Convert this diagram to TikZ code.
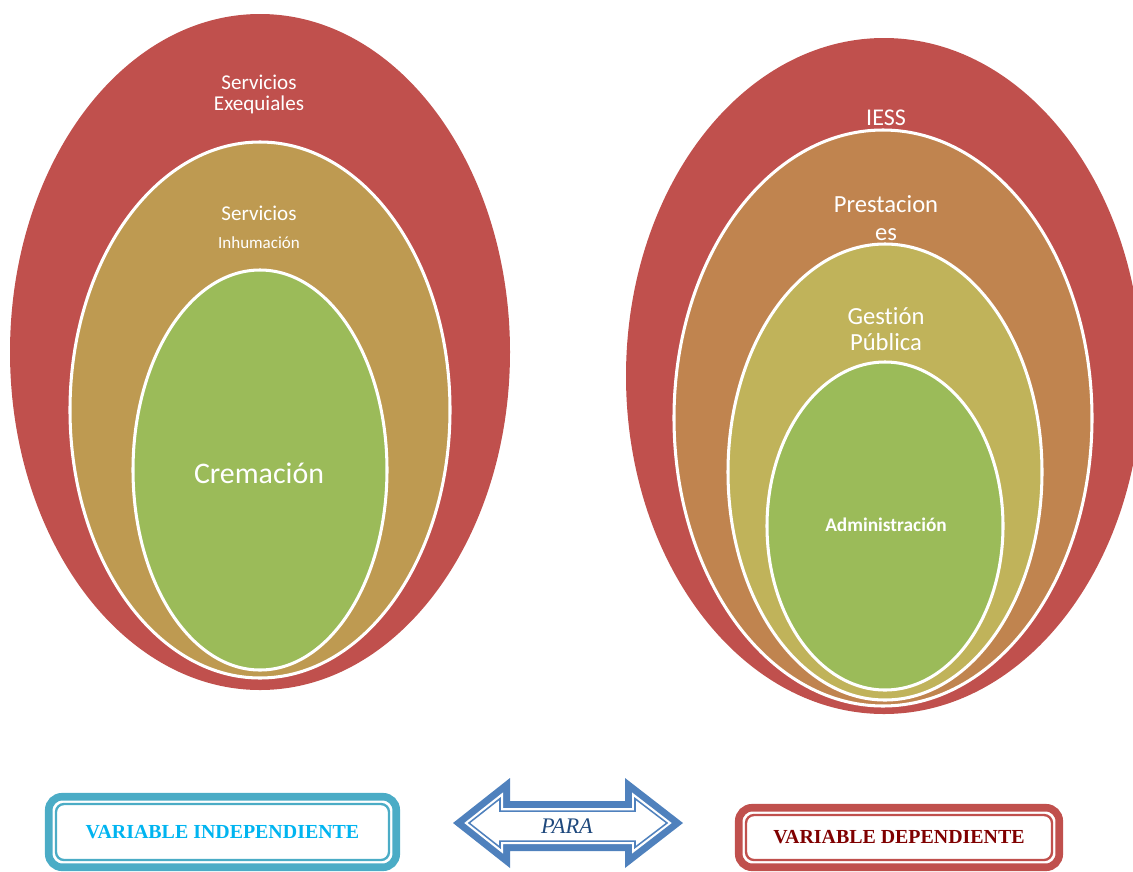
\documentclass[tikz,border=0pt]{standalone}
\usepackage{fontspec}
\setmainfont{Liberation Serif}
\newfontfamily\calibri{Carlito}[Ligatures={NoCommon}]
\usepackage{color}

\definecolor{rojo}{HTML}{C0504D}
\definecolor{ocre}{HTML}{BE9A51}
\definecolor{verde}{HTML}{9BBB59}
\definecolor{cobre}{HTML}{C0844F}
\definecolor{cobrebajo}{HTML}{C3584D}
\definecolor{oliva}{HTML}{C0B35A}
\definecolor{olivabajo}{HTML}{C68A50}
\definecolor{turquesa}{HTML}{4BACC6}
\definecolor{celeste}{HTML}{00B4F0}
\definecolor{granate}{HTML}{7F0000}
\definecolor{azul}{HTML}{4F81BD}
\definecolor{azuloscuro}{HTML}{1F497D}

\pgfdeclareverticalshading{cobresombra}{100bp}{color(0bp)=(cobrebajo); color(22bp)=(cobre); color(100bp)=(cobre)}
\pgfdeclareverticalshading{olivasombra}{100bp}{color(0bp)=(olivabajo); color(25bp)=(oliva); color(100bp)=(oliva)}

\tikzset{
  anillo/.style={draw=white,line width=2.6pt},
  rotulo/.style={text=white,align=center,inner sep=0pt},
  caja/.style={draw=#1,line width=6.5pt,rounded corners=4mm,inner sep=0pt,outer sep=0pt,
    font=\bfseries\fontsize{17}{17}\selectfont},
}

\begin{document}
\begin{tikzpicture}[x=0.3mm,y=-0.3mm]
\useasboundingbox (0,0) rectangle (1133,871);
% variable independiente
\fill[rojo] (260,352) ellipse [x radius=250,y radius=338];
\filldraw[ocre,anillo] (260,410) ellipse [x radius=190,y radius=268];
\filldraw[verde,anillo] (260,470) ellipse [x radius=127,y radius=200];
\node[rotulo,font=\calibri\fontsize{18}{18}\selectfont] (exequiales) at (259,94) {Servicios\\Exequiales};
\node[rotulo,font=\calibri\fontsize{18}{18}\selectfont] (servicios) at (259,213) {Servicios};
\node[rotulo,font=\calibri\fontsize{14.5}{14.5}\selectfont] (inhumacion) at (259,243) {Inhumación};
\node[rotulo,font=\calibri\fontsize{25.5}{25.5}\selectfont] (cremacion) at (259,473) {Cremación};
% variable dependiente
\fill[rojo] (884,376) ellipse [x radius=258,y radius=338];
\path[anillo,shading=cobresombra] (883,418) ellipse [x radius=209,y radius=288];
\path[anillo,shading=olivasombra] (885,472) ellipse [x radius=157,y radius=228];
\filldraw[verde,anillo] (885,526) ellipse [x radius=118,y radius=164];
\node[rotulo,font=\calibri\fontsize{20.5}{20.5}\selectfont] (iess) at (886,118) {IESS};
\node[rotulo,font=\calibri\fontsize{21}{24}\selectfont] (prestaciones) at (886,218) {Prestacion\\es};
\node[rotulo,font=\calibri\fontsize{21}{22.5}\selectfont] (gestion) at (886,329) {Gestión\\Pública};
\node[rotulo,font=\calibri\bfseries\fontsize{16.5}{16.5}\selectfont] (administracion) at (886,525) {Administración};
% cajas
\node[caja=turquesa,text=celeste,minimum width=104.25mm,minimum height=21.15mm] (indep) at (222.5,832) {VARIABLE INDEPENDIENTE};
\draw[turquesa,line width=2pt,rounded corners=2.4mm] ([shift={(7.25,7.25)}]indep.north west) rectangle ([shift={(-7.25,-7.25)}]indep.south east);
\node[caja=rojo,text=granate,minimum width=96.15mm,minimum height=17.85mm] (dep) at (899,837.5) {VARIABLE DEPENDIENTE};
\draw[rojo,line width=2pt,rounded corners=2.4mm] ([shift={(7.25,7.25)}]dep.north west) rectangle ([shift={(-7.25,-7.25)}]dep.south east);
% flecha doble
\fill[azul] (453,823)--(510,778)--(510,801)--(625,801)--(625,778)--(683,823)--(625,868)--(625,851)--(510,851)--(510,868)--cycle;
\fill[white] (464.3,823)--(503,792.4)--(503,808)--(632,808)--(632,792.4)--(671.7,823)--(632,853.6)--(632,844)--(503,844)--(503,853.6)--cycle;
\draw[azul,line width=1.3pt,line join=miter] (469,823)--(500,798.6)--(500,811)--(635,811)--(635,798.6)--(667,823)--(635,847.4)--(635,841)--(500,841)--(500,847.4)--cycle;
\node[text=azuloscuro,font=\itshape\fontsize{19}{19}\selectfont,inner sep=0pt] (para) at (567,826) {PARA};
\end{tikzpicture}
\end{document}
